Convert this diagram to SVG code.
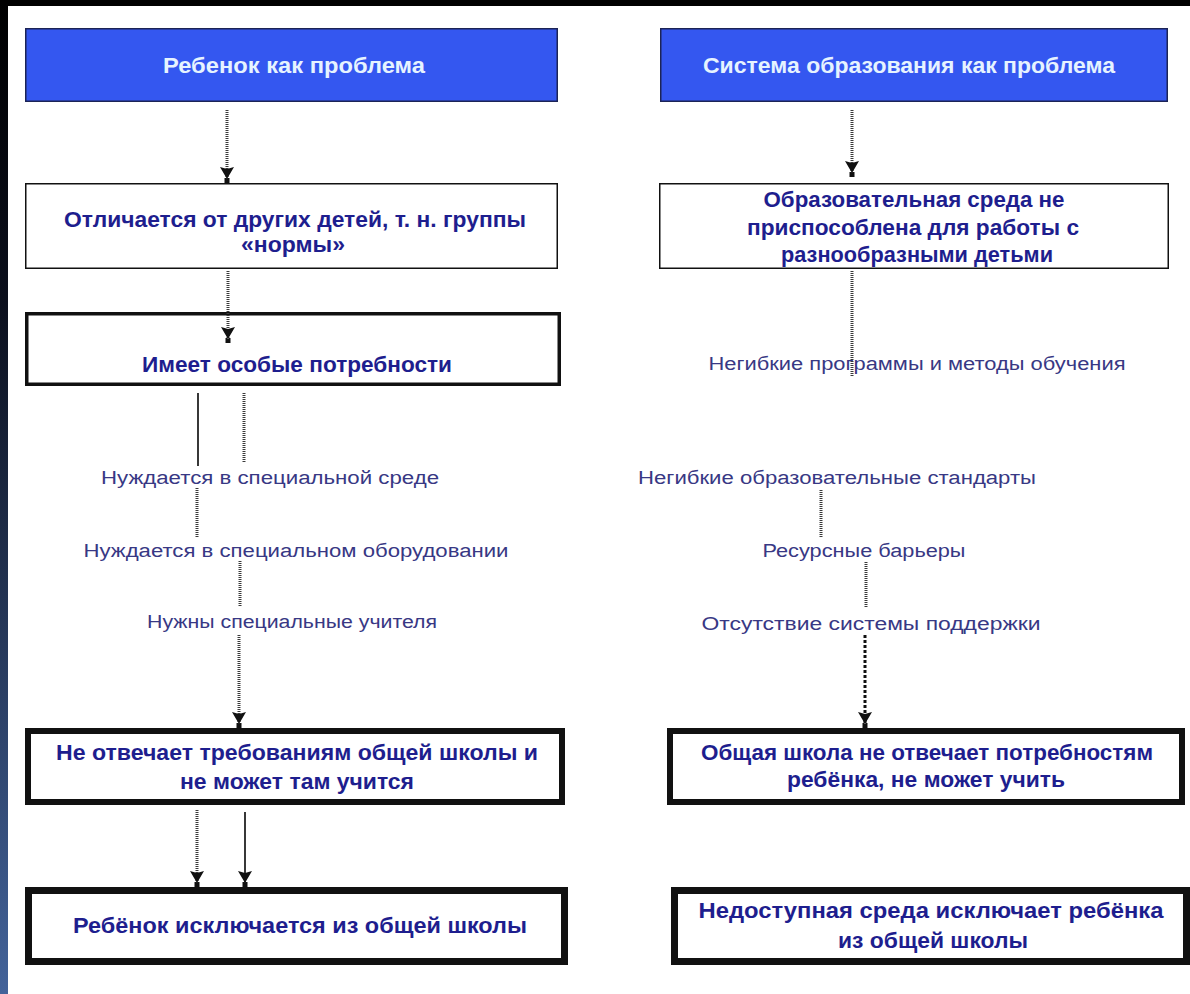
<svg xmlns="http://www.w3.org/2000/svg" width="1190" height="994" viewBox="0 0 1190 994">
<defs>
<linearGradient id="strip" x1="0" y1="0" x2="0" y2="1">
<stop offset="0" stop-color="#000000"/>
<stop offset="0.3" stop-color="#0b0f1c"/>
<stop offset="1" stop-color="#43639a"/>
</linearGradient>
<marker id="ah" viewBox="0 -8 16 16" refX="16" refY="0" markerWidth="16" markerHeight="16" markerUnits="userSpaceOnUse" orient="auto">
<path d="M0,-7 L2,0 L0,7 L12,0 Z M11,-2.5 L16,-2.5 L16,2.5 L11,2.5 Z" fill="#111"/>
</marker>
<style>
.hdr{fill:#3457f0;stroke:#1c2456;stroke-width:1.5}
.box{fill:#ffffff;stroke:#111}
.ht{font-family:"Liberation Sans Narrow","Liberation Sans",Arial,sans-serif;font-weight:bold;font-size:22px;fill:#e6f3ff;text-anchor:middle}
.bt{font-family:"Liberation Sans Narrow","Liberation Sans",Arial,sans-serif;font-weight:bold;font-size:22px;fill:#1e1e8e;text-anchor:middle}
.lt{font-family:"Liberation Sans","Arial",sans-serif;font-size:18px;fill:#383884;text-anchor:middle}
.dot{stroke:#3a3a3a;stroke-width:3;stroke-dasharray:1 1;fill:none}
.sol{stroke:#222;stroke-width:1.8;fill:none}
.dash{stroke:#111;stroke-width:3;stroke-dasharray:3 2;fill:none}
</style>
</defs>
<rect x="0" y="0" width="1190" height="994" fill="#ffffff"/>
<rect x="0" y="0" width="1190" height="6" fill="#000"/>
<rect x="0" y="0" width="8" height="994" fill="url(#strip)"/>

<g id="n-a1">
<rect class="hdr" x="25.75" y="28.75" width="531.5" height="72.5"/>
<text class="ht" x="294" y="73" textLength="262" lengthAdjust="spacingAndGlyphs">Ребенок как проблема</text>
</g>
<g id="n-b1">
<rect class="hdr" x="660.75" y="28.75" width="506.5" height="72.5"/>
<text class="ht" x="909" y="73" textLength="412" lengthAdjust="spacingAndGlyphs">Система образования как проблема</text>
</g>
<g id="n-a2">
<rect class="box" x="25.75" y="183.75" width="531.5" height="84.5" stroke-width="1.5"/>
<text class="bt" x="295" y="227" textLength="462" lengthAdjust="spacingAndGlyphs">Отличается от других детей, т. н. группы</text>
<text class="bt" x="293" y="252" textLength="104" lengthAdjust="spacingAndGlyphs">«нормы»</text>
</g>
<g id="n-b2">
<rect class="box" x="659.75" y="183.75" width="508.5" height="84.5" stroke-width="1.5"/>
<text class="bt" x="914" y="207" font-size="21" textLength="301" lengthAdjust="spacingAndGlyphs">Образовательная среда не</text>
<text class="bt" x="913" y="235" font-size="21" textLength="332" lengthAdjust="spacingAndGlyphs">приспособлена для работы с</text>
<text class="bt" x="917" y="262" font-size="21" textLength="272" lengthAdjust="spacingAndGlyphs">разнообразными детьми</text>
</g>
<g id="n-a3">
<rect class="box" x="26.75" y="313.75" width="532.5" height="70.5" stroke-width="3.5"/>
<text class="bt" x="297" y="372" font-size="23" textLength="310" lengthAdjust="spacingAndGlyphs">Имеет особые потребности</text>
</g>
<g id="n-l1"><text class="lt" x="270" y="484" textLength="338" lengthAdjust="spacingAndGlyphs">Нуждается в специальной среде</text></g>
<g id="n-l2"><text class="lt" x="296" y="557" textLength="425" lengthAdjust="spacingAndGlyphs">Нуждается в специальном оборудовании</text></g>
<g id="n-l3"><text class="lt" x="292" y="628" textLength="290" lengthAdjust="spacingAndGlyphs">Нужны специальные учителя</text></g>
<g id="n-r1"><text class="lt" x="917" y="370" textLength="417" lengthAdjust="spacingAndGlyphs">Негибкие программы и методы обучения</text></g>
<g id="n-r2"><text class="lt" x="837" y="484" textLength="398" lengthAdjust="spacingAndGlyphs">Негибкие образовательные стандарты</text></g>
<g id="n-r3"><text class="lt" x="864" y="557" textLength="203" lengthAdjust="spacingAndGlyphs">Ресурсные барьеры</text></g>
<g id="n-r4"><text class="lt" x="871" y="630" textLength="339" lengthAdjust="spacingAndGlyphs">Отсутствие системы поддержки</text></g>
<g id="n-a4">
<rect class="box" x="28" y="731" width="534" height="71" stroke-width="6"/>
<text class="bt" x="297" y="760" textLength="482" lengthAdjust="spacingAndGlyphs">Не отвечает требованиям общей школы и</text>
<text class="bt" x="297" y="789" textLength="234" lengthAdjust="spacingAndGlyphs">не может там учится</text>
</g>
<g id="n-b4">
<rect class="box" x="670" y="731" width="512" height="71" stroke-width="6"/>
<text class="bt" x="927" y="760" textLength="452" lengthAdjust="spacingAndGlyphs">Общая школа не отвечает потребностям</text>
<text class="bt" x="926" y="787" textLength="278" lengthAdjust="spacingAndGlyphs">ребёнка, не может учить</text>
</g>
<g id="n-a5">
<rect class="box" x="28.5" y="890.5" width="536" height="71" stroke-width="7"/>
<text class="bt" x="300" y="933" textLength="454" lengthAdjust="spacingAndGlyphs">Ребёнок исключается из общей школы</text>
</g>
<g id="n-b5">
<rect class="box" x="674.5" y="890.5" width="512" height="71" stroke-width="7"/>
<text class="bt" x="931" y="918" textLength="465" lengthAdjust="spacingAndGlyphs">Недоступная среда исключает ребёнка</text>
<text class="bt" x="933" y="948" textLength="190" lengthAdjust="spacingAndGlyphs">из общей школы</text>
</g>

<g id="connectors">
<line class="dot" x1="227" y1="110" x2="227" y2="183" marker-end="url(#ah)"/>
<line class="dot" x1="228" y1="271" x2="228" y2="343" marker-end="url(#ah)"/>
<line class="sol" x1="198" y1="393" x2="198" y2="466"/>
<line class="dot" x1="244" y1="393" x2="244" y2="463"/>
<line class="dot" x1="197" y1="488" x2="197" y2="538"/>
<line class="dot" x1="240" y1="561" x2="240" y2="607"/>
<line class="dot" x1="239" y1="635" x2="239" y2="728" marker-end="url(#ah)"/>
<line class="dot" x1="197" y1="810" x2="197" y2="887" marker-end="url(#ah)"/>
<line class="sol" x1="245" y1="812" x2="245" y2="887" marker-end="url(#ah)"/>
<line class="dot" x1="852" y1="110" x2="852" y2="177" marker-end="url(#ah)"/>
<line class="dot" x1="852" y1="271" x2="852" y2="376"/>
<line class="dot" x1="821" y1="490" x2="821" y2="537"/>
<line class="dot" x1="866" y1="562" x2="866" y2="608"/>
<line class="dash" x1="865" y1="635" x2="865" y2="728" marker-end="url(#ah)"/>
</g>
</svg>
